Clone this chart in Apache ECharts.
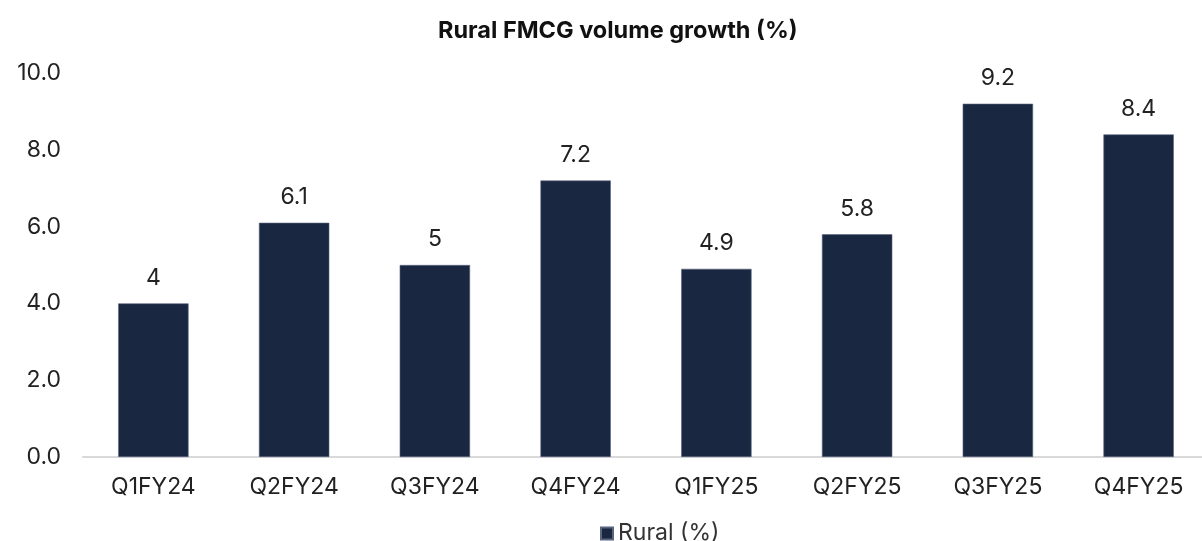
<!DOCTYPE html>
<html><head><meta charset="utf-8">
<script src="https://cdn.jsdelivr.net/npm/echarts@6/dist/echarts.min.js"></script>
<style>html,body{margin:0;padding:0;background:#fff}#c{width:1202px;height:541px}</style>
</head><body><div id="c"></div>
<script>
const categories = ['Q1FY24','Q2FY24','Q3FY24','Q4FY24','Q1FY25','Q2FY25','Q3FY25','Q4FY25'];
const ruralValues = [4, 6.1, 5, 7.2, 4.9, 5.8, 9.2, 8.4];
const chart = echarts.init(document.getElementById('c'));
chart.setOption({
  animation: false,
  textStyle: {fontFamily: 'Inter, "Liberation Sans", sans-serif'},
  title: {text: 'Rural FMCG volume growth (%)', left: 433, top: 14,
    textStyle: {fontSize: 23.5, fontWeight: 'bold', color: '#111', fontFamily: 'Inter, sans-serif'}},
  legend: {top: 517, left: 595, itemWidth: 12, itemHeight: 12, icon: 'rect', itemGap: 4,
    textStyle: {fontSize: 23, color: '#333'}, data: ['Rural (%)']},
  grid: {left: 83, width: 1126, top: 73, bottom: 84, containLabel: false, outerBoundsMode: 'none'},
  xAxis: {type: 'category', data: categories,
    axisLine: {lineStyle: {color: '#d9d9d9', width: 2}}, axisTick: {show: false},
    axisLabel: {fontSize: 23, color: '#222', margin: 19}},
  yAxis: {type: 'value', min: 0, max: 10, interval: 2,
    axisLine: {show: false}, axisTick: {show: false}, splitLine: {show: false},
    axisLabel: {fontSize: 23, color: '#222', margin: 22, formatter: v => v.toFixed(1)}},
  series: [{name: 'Rural (%)', type: 'bar', data: ruralValues, barWidth: '50%',
    itemStyle: {color: '#1a2740', borderColor: '#5a6580', borderWidth: 0.6},
    label: {show: true, position: 'top', distance: 14, fontSize: 23, color: '#222'}}]
});
</script></body></html>
